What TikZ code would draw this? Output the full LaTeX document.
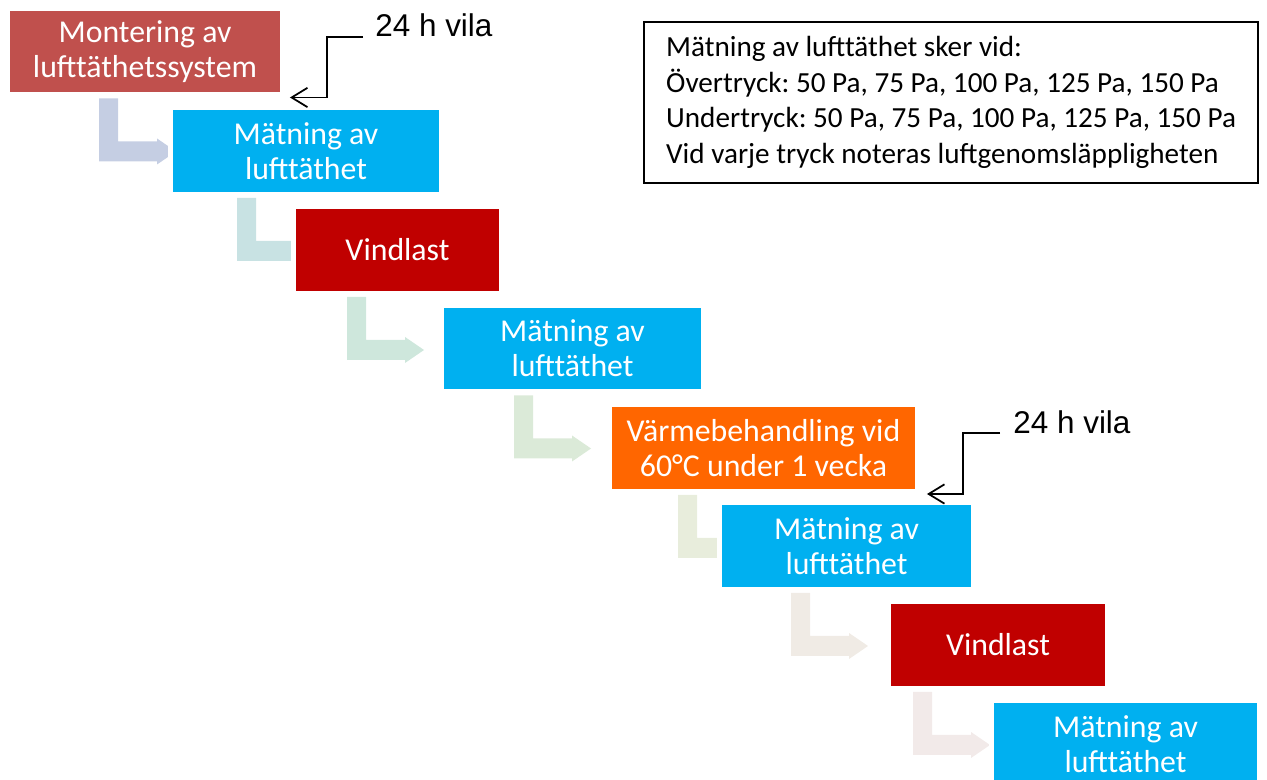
\documentclass[tikz,border=0pt]{standalone}
\usepackage{fontspec}
\setmainfont{Carlito}
\newfontfamily\arialfont{Liberation Sans}
\usepackage{tikz}
\definecolor{montred}{RGB}{192, 80, 77}
\definecolor{measblue}{RGB}{0, 176, 240}
\definecolor{windred}{RGB}{192, 0, 0}
\definecolor{heatorange}{RGB}{255, 102, 0}
\definecolor{flowA}{RGB}{197, 206, 227}
\definecolor{flowB}{RGB}{200, 226, 227}
\definecolor{flowC}{RGB}{206, 231, 220}
\definecolor{flowD}{RGB}{219, 234, 216}
\definecolor{flowE}{RGB}{232, 237, 220}
\definecolor{flowF}{RGB}{240, 235, 229}
\definecolor{flowG}{RGB}{242, 234, 233}
\usetikzlibrary{arrows.meta, calc, backgrounds}
\frenchspacing

% bent step arrow below a box: box name, x offset, colour
\newcommand{\stepdownarrow}[3]{%
  \fill[#3] ($(#1.south west)+(#2,6)$) -- ++(19,0) -- ++(0,43) -- ++(39,0) -- ++(0,-3)
    -- ++(19,13) -- ++(-19,13) -- ++(0,-3) -- ++(-58,0) -- cycle;}

\begin{document}
\begin{tikzpicture}[
    x=0.02cm, y=-0.02cm,
    stepbox/.style={rectangle, fill=#1, preaction={draw=white, line width=0.2cm},
                  outer sep=0pt, inner sep=0pt, minimum height=1.64cm, text=white,
                  align=center, font=\fontsize{18.1}{19.9}\selectfont},
    rest/.style={anchor=south west, inner sep=0pt, font=\arialfont\fontsize{17.9}{20}\selectfont},
    callout/.style={draw=black, line width=1pt, -{Straight Barb[length=9pt, width=11pt]}}
]
    \useasboundingbox (0,0) rectangle (1267,780);
    \clip (0,0) rectangle (1267,780);

    % Process steps
    \node[stepbox=montred, minimum width=5.4cm] (mont) at (145,51.5) {Montering av\\lufttäthetssystem};
    \node[stepbox=measblue, minimum width=5.32cm] (meas1) at (306,151) {Mätning av\\lufttäthet};
    \node[stepbox=windred, minimum width=4.06cm] (wind1) at (397.5,250) {Vindlast};
    \node[stepbox=measblue, minimum width=5.14cm] (meas2) at (572.5,348.5) {Mätning av\\lufttäthet};
    \node[stepbox=heatorange, minimum width=6.06cm] (heat) at (763.5,448) {Värmebehandling vid\\60°C under 1 vecka};
    \node[stepbox=measblue, minimum width=4.98cm] (meas3) at (846.5,546) {Mätning av\\lufttäthet};
    \node[stepbox=windred, minimum width=4.28cm] (wind2) at (998,645) {Vindlast};
    \node[stepbox=measblue, minimum width=5.26cm] (meas4) at (1125.5,744) {Mätning av\\lufttäthet};

    % Step arrows
    \begin{scope}[on background layer]
        \stepdownarrow{mont}{89}{flowA}
        \stepdownarrow{meas1}{64}{flowB}
        \stepdownarrow{wind1}{51}{flowC}
        \stepdownarrow{meas2}{70}{flowD}
        \stepdownarrow{heat}{66}{flowE}
        \stepdownarrow{meas3}{69}{flowF}
        \stepdownarrow{wind2}{22}{flowG}
    \end{scope}

    % Measurement info
    \node[draw=black, line width=0.03cm, minimum width=12.28cm, minimum height=3.22cm,
          align=left, font=\fontsize{16.6}{20.2}\selectfont] (info) at (951,102.5)
        {Mätning av lufttäthet sker vid:\\
         Övertryck: 50 Pa, 75 Pa, 100 Pa, 125 Pa, 150 Pa\\
         Undertryck: 50 Pa, 75 Pa, 100 Pa, 125 Pa, 150 Pa\\
         Vid varje tryck noteras luftgenomsläppligheten};

    % Rest periods
    \node[rest] (rest1) at (375,37) {24 h vila};
    \coordinate (rest1tip) at ($(mont.south east)+(10,5)$);
    \draw[callout] ($(rest1.south west)+(-12,0)$) -| ($(rest1tip)+(37,0)$) -- (rest1tip);

    \node[rest] (rest2) at (1013,434) {24 h vila};
    \coordinate (rest2tip) at ($(heat.south east)+(12,5)$);
    \draw[callout] ($(rest2.south west)+(-13,-1)$) -| ($(rest2tip)+(36,0)$) -- (rest2tip);
\end{tikzpicture}
\end{document}
